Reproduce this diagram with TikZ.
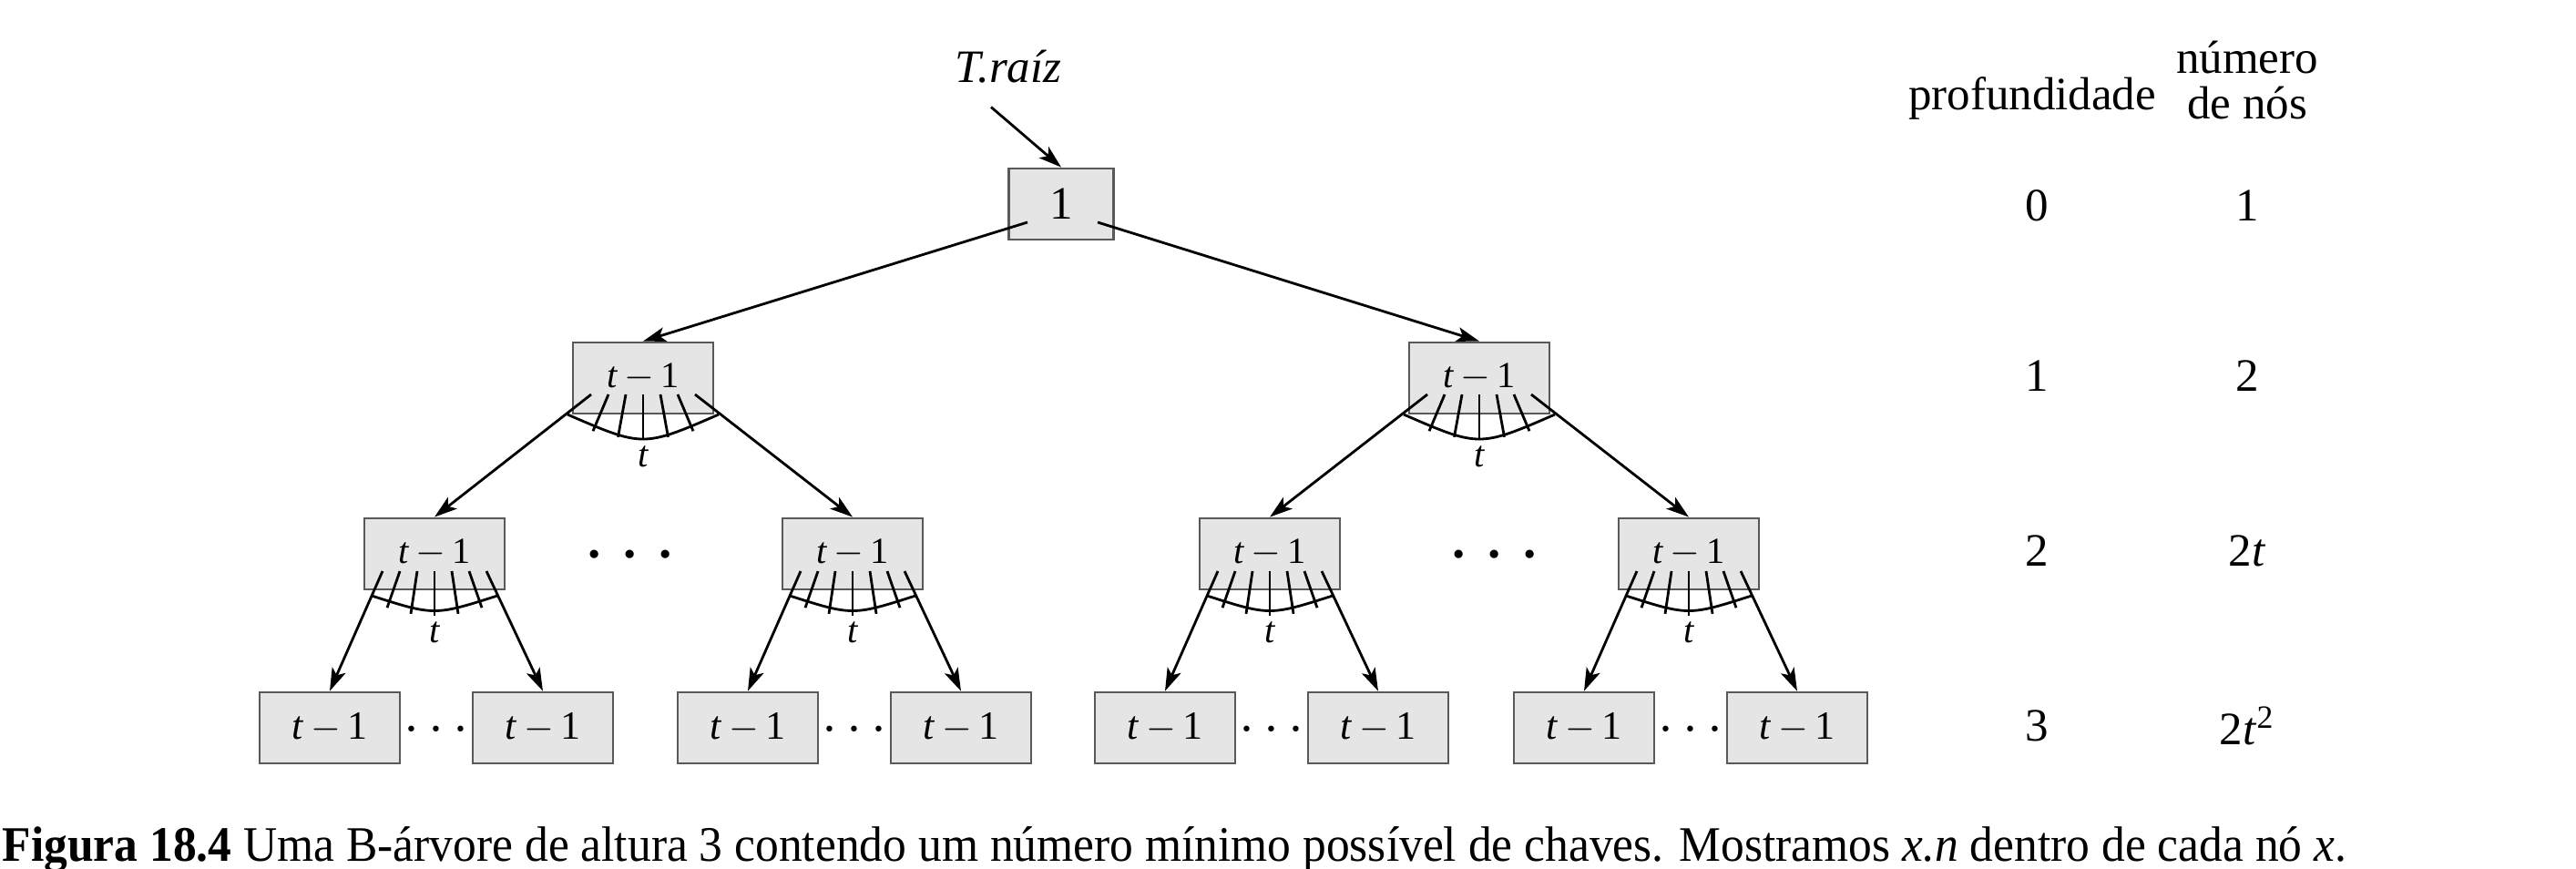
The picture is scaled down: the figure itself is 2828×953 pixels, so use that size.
\documentclass[tikz,border=0pt]{standalone}
\usepackage{fontspec}
\setmainfont{Liberation Serif}
\usepackage{tikz}
\usetikzlibrary{arrows.meta, positioning, calc}
\tikzset{
    keynode/.style={rectangle, draw=black!65, line width=0.8pt, fill=black!10, minimum width=1.54cm, minimum height=0.78cm, inner sep=0pt, font=\fontsize{12.5}{15}\selectfont},
    innernode/.style={keynode, font=\fontsize{11.5}{14}\selectfont, text depth=0.06cm},
    tabtext/.style={font=\fontsize{14.5}{14}\selectfont, align=center},
    fanlabel/.style={font=\fontsize{11.5}{14}\selectfont\itshape, inner sep=0pt},
    dots/.style={font=\fontsize{26}{30}\selectfont, inner sep=0pt},
    smalldots/.style={font=\fontsize{19}{22}\selectfont, inner sep=0pt},
    arrow/.style={-{Stealth[length=0.25cm, width=0.16cm, inset=0.06cm]}, line width=0.8pt},
    fanline/.style={line width=0.8pt},
}
\newcommand{\tmo}{\textit{t}\hspace{0.18em}$-$\hspace{0.18em}1}

\begin{document}
\begin{tikzpicture}[x=0.01cm, y=-0.01cm]
    \useasboundingbox (0,0) rectangle (2828,953);

    \node[font=\fontsize{14.5}{17}\selectfont\itshape] (traiz) at (1107,73) {T.raíz};
    \node[keynode, minimum width=1.15cm, font=\fontsize{14.5}{17}\selectfont] (root) at (1165,224) {1};

    \node[innernode] (l1a) at (706,415) {\tmo};
    \node[innernode] (l1b) at (1624,415) {\tmo};

    \node[innernode] (l2a) at (477,608) {\tmo};
    \node[innernode] (l2b) at (936,608) {\tmo};
    \node[innernode] (l2c) at (1394,608) {\tmo};
    \node[innernode] (l2d) at (1854,608) {\tmo};
    \node[dots] (dl2ab) at (692,611) {$\cdots$};
    \node[dots] (dl2cd) at (1641,611) {$\cdots$};

    \node[keynode] (l3a1) at (362,799) {\tmo};
    \node[keynode, right=0.77cm of l3a1] (l3a2) {\tmo};
    \node[keynode] (l3b1) at (821,799) {\tmo};
    \node[keynode, right=0.77cm of l3b1] (l3b2) {\tmo};
    \node[keynode] (l3c1) at (1279,799) {\tmo};
    \node[keynode, right=0.77cm of l3c1] (l3c2) {\tmo};
    \node[keynode] (l3d1) at (1739,799) {\tmo};
    \node[keynode, right=0.77cm of l3d1] (l3d2) {\tmo};
    \node[smalldots] (dl3a) at ($(l3a1)!0.5!(l3a2)+(0,3)$) {$\cdots$};
    \node[smalldots] (dl3b) at ($(l3b1)!0.5!(l3b2)+(0,3)$) {$\cdots$};
    \node[smalldots] (dl3c) at ($(l3c1)!0.5!(l3c2)+(0,3)$) {$\cdots$};
    \node[smalldots] (dl3d) at ($(l3d1)!0.5!(l3d2)+(0,3)$) {$\cdots$};

    % t pointers under each inner node
    \foreach \n in {l1a, l1b} {
        \draw[fanline] ($(\n)+(-83,40)$) .. controls ($(\n)+(0,76)$) .. ($(\n)+(83,40)$);
        \foreach \k in {-2,...,2}
            \draw[fanline] ($(\n)+({\k*19},18)$) -- ($(\n)+({\k*27.5},{67-2.2*\k*\k})$);
        \node[fanlabel] (\n-t) at ($(\n)+(0,86)$) {t};
    }
    \foreach \n in {l2a, l2b, l2c, l2d} {
        \draw[fanline] ($(\n)+(-69,46)$) .. controls ($(\n)+(0,68)$) .. ($(\n)+(69,46)$);
        \foreach \k in {-2,...,2}
            \draw[fanline] ($(\n)+({\k*19},19)$) -- ($(\n)+({\k*26},{68-2.2*\k*\k})$);
        \node[fanlabel] (\n-t) at ($(\n)+(0,86)$) {t};
    }

    \draw[arrow] ($(traiz.south)+(-19,14)$) -- (root.north);
    \draw[arrow] ($(root)+(-37,20)$) -- (l1a.north);
    \draw[arrow] ($(root)+(40,20)$) -- (l1b.north);
    \draw[arrow] ($(l1a)+(-57,18)$) -- (l2a.north);
    \draw[arrow] ($(l1a)+(57,18)$) -- (l2b.north);
    \draw[arrow] ($(l1b)+(-57,18)$) -- (l2c.north);
    \draw[arrow] ($(l1b)+(57,18)$) -- (l2d.north);
    \draw[arrow] ($(l2a)+(-57,19)$) -- (l3a1.north);
    \draw[arrow] ($(l2a)+(57,19)$) -- (l3a2.north);
    \draw[arrow] ($(l2b)+(-57,19)$) -- (l3b1.north);
    \draw[arrow] ($(l2b)+(57,19)$) -- (l3b2.north);
    \draw[arrow] ($(l2c)+(-57,19)$) -- (l3c1.north);
    \draw[arrow] ($(l2c)+(57,19)$) -- (l3c2.north);
    \draw[arrow] ($(l2d)+(-57,19)$) -- (l3d1.north);
    \draw[arrow] ($(l2d)+(57,19)$) -- (l3d2.north);

    % depth / node count table
    \node[tabtext] (hprof) at (2231,108) {profundidade};
    \node[tabtext] (hnum) at (2467,88) {número\\de nós};
    \node[tabtext] (p0) at (2236,226) {0};
    \node[tabtext] (p1) at (2236,413) {1};
    \node[tabtext] (p2) at (2236,605) {2};
    \node[tabtext] (p3) at (2236,797) {3};
    \node[tabtext] (n0) at (2467,226) {1};
    \node[tabtext] (n1) at (2467,413) {2};
    \node[tabtext] (n2) at (2467,605) {2\textit{t}};
    \node[tabtext] (n3) at (2467,797) {2\textit{t}\textsuperscript{2}};

    \node[anchor=base west, inner sep=0pt, font=\fontsize{15.5}{18}\selectfont] (caption) at (2,945) {\scalebox{0.945}[1]{\textbf{Figura 18.4} Uma B-árvore de altura 3 contendo um número mínimo possível de chaves. Mostramos \textit{x.n} dentro de cada nó \textit{x}.}};
\end{tikzpicture}
\end{document}
